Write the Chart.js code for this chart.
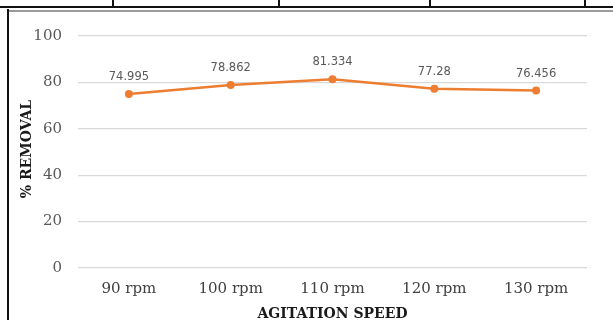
<!DOCTYPE html>
<html>
<head>
<meta charset="utf-8">
<script src="https://cdn.jsdelivr.net/npm/chart.js@4/dist/chart.umd.min.js"></script>
<style>
  html, body { margin: 0; padding: 0; background: #fff; }
  #wrap { width: 613px; height: 320px; position: relative; }
</style>
</head>
<body>
<div id="wrap"><canvas id="c" width="613" height="320"></canvas></div>
<script>
// Agitation speed vs. percentage removal
const speeds = ['90 rpm', '100 rpm', '110 rpm', '120 rpm', '130 rpm'];
const removal = [74.995, 78.862, 81.334, 77.28, 76.456];
const removalLabels = ['74.995', '78.862', '81.334', '77.28', '76.456'];
const yTicks = [0, 20, 40, 60, 80, 100];
const xTitle = 'AGITATION SPEED';
const yTitle = '% REMOVAL';

const ORANGE = '#ED7D31';
const SERIF = '"DejaVu Serif", "Liberation Serif", serif';

// Table rule above the chart and the chart's frame
const framePlugin = {
  id: 'frame',
  beforeDraw(chart) {
    const ctx = chart.ctx;
    ctx.save();
    ctx.fillStyle = '#fff';
    ctx.fillRect(0, 0, chart.width, chart.height);
    ctx.strokeStyle = '#111';
    ctx.lineWidth = 2;
    ctx.beginPath();
    ctx.moveTo(0, 7); ctx.lineTo(613, 7);
    [113, 279, 430, 585].forEach(x => { ctx.moveTo(x, 0); ctx.lineTo(x, 7); });
    ctx.moveTo(8, 9); ctx.lineTo(8, 320);
    ctx.stroke();
    ctx.strokeStyle = '#9a9a9a';
    ctx.lineWidth = 2;
    ctx.beginPath();
    ctx.moveTo(9, 11); ctx.lineTo(613, 11);
    ctx.stroke();
    ctx.restore();
  }
};

// Axis titles
const axisTitles = {
  id: 'axisTitles',
  afterDraw(chart) {
    const ctx = chart.ctx;
    const area = chart.chartArea;
    ctx.save();
    ctx.fillStyle = '#1a1a1a';
    ctx.textAlign = 'center';
    ctx.textBaseline = 'alphabetic';
    ctx.font = 'bold 14px ' + SERIF;
    ctx.fillText(xTitle, (area.left + area.right) / 2, 318);
    ctx.translate(31, (area.top + area.bottom) / 2 - 3);
    ctx.rotate(-Math.PI / 2);
    ctx.font = 'bold 14px ' + SERIF;
    ctx.fillText(yTitle, 0, 0);
    ctx.restore();
  }
};

// Value labels above each point
const valueLabels = {
  id: 'valueLabels',
  afterDatasetsDraw(chart) {
    const ctx = chart.ctx;
    const meta = chart.getDatasetMeta(0);
    ctx.save();
    ctx.font = '11.5px "DejaVu Sans", sans-serif';
    ctx.fillStyle = '#595959';
    ctx.textAlign = 'center';
    ctx.textBaseline = 'middle';
    meta.data.forEach((pt, i) => {
      ctx.fillText(removalLabels[i], pt.x, pt.y - 17);
    });
    ctx.restore();
  }
};

new Chart(document.getElementById('c'), {
  type: 'line',
  data: {
    labels: speeds,
    datasets: [{
      data: removal,
      borderColor: ORANGE,
      backgroundColor: ORANGE,
      borderWidth: 2.5,
      pointRadius: 4,
      pointBorderWidth: 0,
      tension: 0
    }]
  },
  options: {
    responsive: false,
    animation: false,
    layout: { padding: { left: 10, right: 26, top: 36, bottom: 0 } },
    plugins: { legend: { display: false }, tooltip: { enabled: false } },
    scales: {
      x: {
        offset: true,
        grid: { display: false, drawTicks: false },
        border: { display: false },
        ticks: {
          padding: 12,
          color: '#404040',
          font: { family: SERIF, size: 15 }
        },
        afterFit(s) { s.height = 52; }
      },
      y: {
        min: 0,
        max: 100,
        afterBuildTicks(s) { s.ticks = yTicks.map(v => ({ value: v })); },
        grid: { color: '#d9d9d9', lineWidth: 1.2, drawTicks: false },
        border: { display: false },
        ticks: {
          padding: 16,
          color: '#595959',
          font: { family: SERIF, size: 15 }
        },
        afterFit(s) { s.width = 68; }
      }
    }
  },
  plugins: [framePlugin, axisTitles, valueLabels]
});
</script>
</body>
</html>
